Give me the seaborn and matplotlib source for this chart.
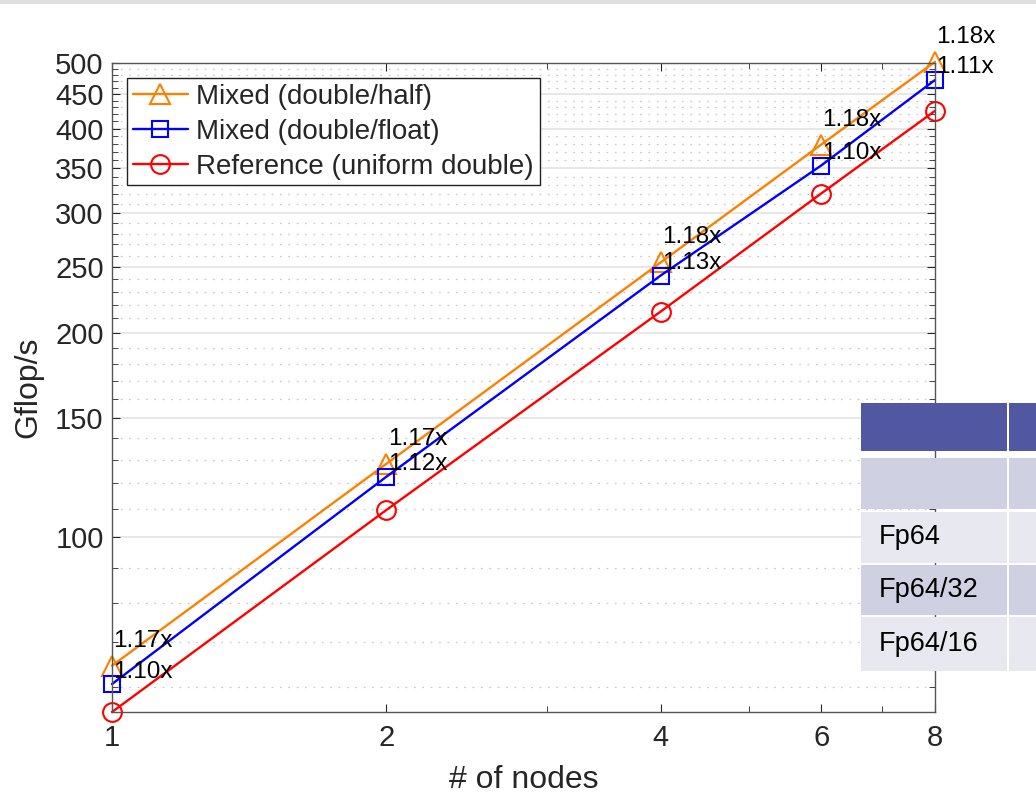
import matplotlib
matplotlib.use("Agg")
import matplotlib.pyplot as plt
import numpy as np
import pandas as pd
import seaborn as sns
from matplotlib.patches import Rectangle
from matplotlib.ticker import FixedLocator, FixedFormatter, NullFormatter

# ---------------- data ----------------
nodes = [1, 2, 4, 6, 8]
ref_gflops = [55.2, 109.6, 215, 321, 425]
float_gflops = [60.7, 122.7, 243, 353, 472]
half_gflops = [64.6, 128.2, 254, 379, 502]
float_speedup = ["1.10x", "1.12x", "1.13x", "1.10x", "1.11x"]
half_speedup = ["1.17x", "1.17x", "1.18x", "1.18x", "1.18x"]
series_names = ["Mixed (double/half)", "Mixed (double/float)", "Reference (uniform double)"]
x_ticks = [1, 2, 4, 6, 8]
x_minor = [3, 5, 7]
y_ticks = [100, 150, 200, 250, 300, 350, 400, 450, 500]
y_minor = [v for v in range(60, 500, 10) if v not in y_ticks]
table_labels = ["", "", "Fp64", "Fp64/32", "Fp64/16"]

sns.set_style("ticks")
plt.rcParams["font.family"] = ["Liberation Sans", "DejaVu Sans"]

W, H = 1036, 797
fig = plt.figure(figsize=(W / 100, H / 100), dpi=100)
ax = fig.add_axes([112 / W, 1 - 712 / H, (935 - 112) / W, (712 - 63) / H])

df = pd.DataFrame({"nodes": nodes, "half": half_gflops, "float": float_gflops, "ref": ref_gflops})
styles = [("half", "#FF8000", "^", 14.5), ("float", "#0000FF", "s", 11), ("ref", "#FF0000", "o", 13.5)]
for (col, color, mk, ms), name in zip(styles, series_names):
    sns.lineplot(data=df, x="nodes", y=col, ax=ax, color=color, marker=mk, ms=ms,
                 mfc="none", mec=color, mew=1.5, lw=1.7, label=name, clip_on=False)

ax.set_xscale("log")
ax.set_yscale("log")
ax.set_xlim(1, 8)
ax.set_ylim(55.2, 500)

ax.xaxis.set_major_locator(FixedLocator(x_ticks))
ax.xaxis.set_major_formatter(FixedFormatter([str(v) for v in x_ticks]))
ax.xaxis.set_minor_locator(FixedLocator(x_minor))
ax.xaxis.set_minor_formatter(NullFormatter())
ax.yaxis.set_major_locator(FixedLocator(y_ticks))
ax.yaxis.set_major_formatter(FixedFormatter([str(v) for v in y_ticks]))
ax.yaxis.set_minor_locator(FixedLocator(y_minor))
ax.yaxis.set_minor_formatter(NullFormatter())

axis_col = "#262626"
ax.tick_params(which="both", direction="in", top=True, right=True, colors=axis_col,
               labelcolor=axis_col)
ax.tick_params(which="major", length=6, width=0.8, labelsize=21)
ax.tick_params(which="minor", length=4, width=0.6)
ax.tick_params(axis="x", which="major", pad=9)
ax.tick_params(axis="y", which="major", pad=6)
for s in ax.spines.values():
    s.set_color("#555555")
    s.set_linewidth(1.0)

ax.yaxis.grid(True, which="major", color="#e0e0e0", lw=1.1, ls="-")
ax.yaxis.grid(True, which="minor", color="#c4c4c4", lw=0.9, ls=(0, (1.3, 5.4)))
ax.xaxis.grid(False, which="both")
ax.set_axisbelow(True)

ax.set_xlabel("# of nodes", fontsize=23, color=axis_col)
ax.set_ylabel("Gflop/s", fontsize=23, color=axis_col)
ax.xaxis.set_label_coords(0.5, (712 - 780) / (712 - 63))
ax.xaxis.label.set_verticalalignment("center")
ax.yaxis.set_label_coords((28 - 112) / (935 - 112), 0.5)
ax.yaxis.label.set_verticalalignment("center")

for x, yh, yf, th, tf in zip(nodes, half_gflops, float_gflops, half_speedup, float_speedup):
    ax.annotate(th, (x, yh), xytext=(1, 18), textcoords="offset points", ha="left",
                va="center", fontsize=17.5, color="black", annotation_clip=False)
    ax.annotate(tf, (x, yf), xytext=(1, 9), textcoords="offset points", ha="left",
                va="center", fontsize=17.5, color="black", annotation_clip=False)

handles, labels = ax.get_legend_handles_labels()
leg = ax.legend(handles, labels, loc="upper left", bbox_to_anchor=(15 / 823, 1 - 15 / 649),
                fontsize=20, fancybox=False, framealpha=1, edgecolor="#222222",
                handlelength=2.0, handletextpad=0.3, labelspacing=0.33, borderpad=0.2,
                borderaxespad=0)
leg.get_frame().set_linewidth(1.0)

# top grey strip
fig.add_artist(Rectangle((0, 1 - 4 / H), 1, 4 / H, transform=fig.transFigure,
                         facecolor="#e0e0e0", edgecolor="none", zorder=20))

# overlaid table fragment
rows = [(403, 451, "#5157a0"), (458, 509, "#cfd1e2"), (512, 563, "#e8e9f0"),
        (565, 615, "#cfd1e2"), (617, 671, "#e8e9f0")]
cols = [(861, 1007), (1009, 1036)]
for (y0, y1, c), lab in zip(rows, table_labels):
    for (x0, x1) in cols:
        fig.add_artist(Rectangle((x0 / W, 1 - y1 / H), (x1 - x0) / W, (y1 - y0) / H,
                                 transform=fig.transFigure, facecolor=c,
                                 edgecolor="none", zorder=20))
    if lab:
        fig.text(879 / W, 1 - (y0 + y1) / 2 / H, lab, fontsize=19.5, ha="left",
                 va="center", color="black", zorder=21)

fig.savefig("out.png", dpi=100)
